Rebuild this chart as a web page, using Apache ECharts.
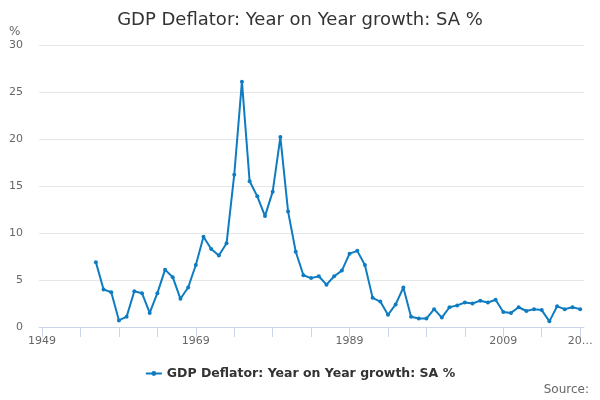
<!DOCTYPE html>
<html>
<head>
<meta charset="utf-8">
<script src="https://cdn.jsdelivr.net/npm/echarts@6/dist/echarts.min.js"></script>
<style>
html,body{margin:0;padding:0;background:#fff;}
#chart{width:600px;height:400px;}
</style>
</head>
<body>
<div id="chart"></div>
<script>
const seriesName = 'GDP Deflator: Year on Year growth: SA %';
const years = [1956,1957,1958,1959,1960,1961,1962,1963,1964,1965,1966,1967,1968,1969,1970,1971,1972,1973,1974,1975,1976,1977,1978,1979,1980,1981,1982,1983,1984,1985,1986,1987,1988,1989,1990,1991,1992,1993,1994,1995,1996,1997,1998,1999,2000,2001,2002,2003,2004,2005,2006,2007,2008,2009,2010,2011,2012,2013,2014,2015,2016,2017,2018,2019];
const values = [6.9,4.0,3.7,0.7,1.1,3.8,3.6,1.5,3.6,6.1,5.3,3.0,4.2,6.6,9.6,8.3,7.6,8.9,16.2,26.1,15.5,13.9,11.8,14.4,20.2,12.3,8.0,5.5,5.2,5.4,4.5,5.4,6.0,7.8,8.1,6.6,3.1,2.7,1.3,2.4,4.2,1.1,0.9,0.9,1.9,1.0,2.1,2.3,2.6,2.5,2.8,2.6,2.9,1.6,1.5,2.1,1.7,1.9,1.8,0.6,2.2,1.9,2.1,1.9];
const xTickYears = [1949,1954,1959,1964,1969,1974,1979,1984,1989,1994,1999,2004,2009,2014,2019];
const xLabelYears = [1949,1969,1989,2009,2019];

const lineColor = '#0f7cc1';
const chart = echarts.init(document.getElementById('chart'));
chart.setOption({
  animation: false,
  textStyle: {fontFamily: 'DejaVu Sans'},
  title: {
    text: seriesName,
    left: 'center',
    top: 6,
    textStyle: {fontFamily: 'DejaVu Sans', fontSize: 18, fontWeight: 'normal', color: '#333'}
  },
  graphic: [
    {type: 'text', left: 9, top: 26, style: {text: '%', fontFamily: 'DejaVu Sans', fontSize: 12, fill: '#666'}},
    {type: 'text', right: 11, top: 384, style: {text: 'Source:', fontFamily: 'DejaVu Sans', fontSize: 12, fill: '#666'}}
  ],
  legend: {
    bottom: 15,
    left: 'center',
    itemWidth: 16,
    itemHeight: 6,
    itemGap: 6,
    textStyle: {fontFamily: 'DejaVu Sans', fontSize: 12.5, fontWeight: 'bold', color: '#333'},
    data: [seriesName]
  },
  grid: {left: 39, right: 16, top: 45, bottom: 73, containLabel: false},
  xAxis: {
    type: 'value',
    min: 1948.6,
    max: 2019.5,
    axisLine: {show: true, lineStyle: {color: '#ccd6eb'}},
    axisTick: {show: true, length: 10, lineStyle: {color: '#ccd6eb'}, customValues: xTickYears},
    axisLabel: {
      color: '#666', fontSize: 11, margin: 9,
      customValues: xLabelYears,
      formatter: v => v === 2019 ? '20…' : String(v)
    },
    splitLine: {show: false}
  },
  yAxis: {
    type: 'value',
    min: 0,
    max: 30,
    interval: 5,
    axisLine: {show: false},
    axisTick: {show: false},
    axisLabel: {color: '#666', fontSize: 11, margin: 16},
    splitLine: {lineStyle: {color: '#e6e6e6'}}
  },
  series: [{
    name: seriesName,
    type: 'line',
    data: years.map((y, i) => [y, values[i]]),
    color: lineColor,
    lineStyle: {width: 2, color: lineColor},
    symbol: 'circle',
    symbolSize: 4,
    showSymbol: true,
    itemStyle: {color: lineColor}
  }]
});
</script>
</body>
</html>
